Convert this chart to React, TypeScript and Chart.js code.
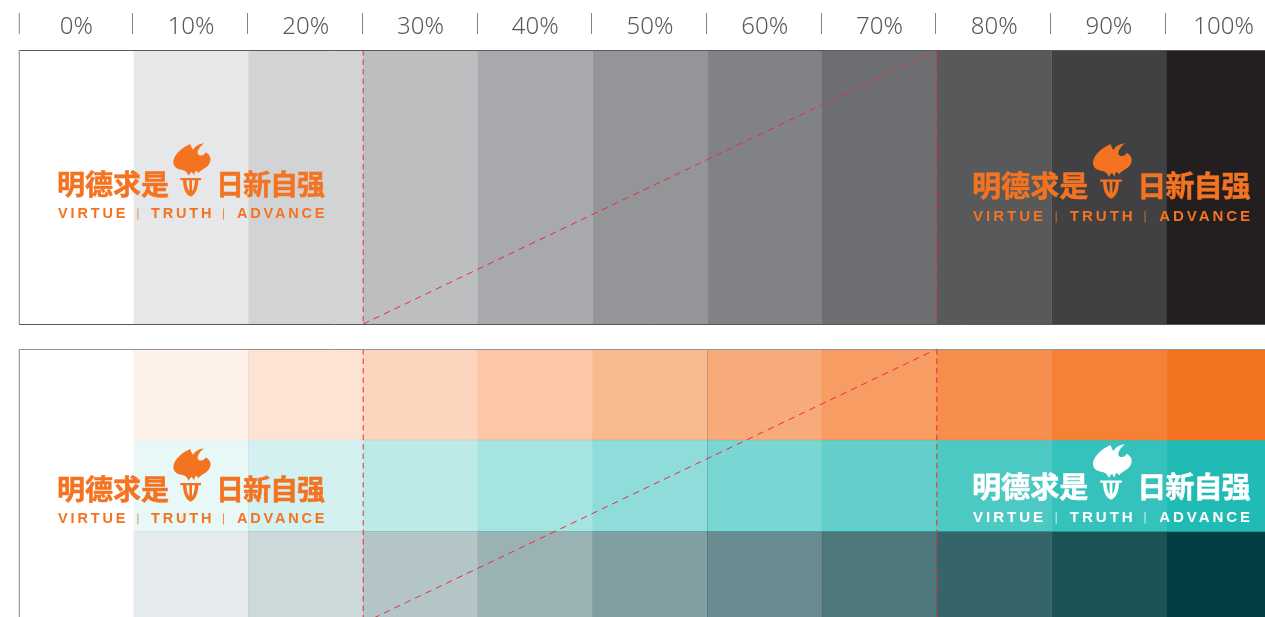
import React, { useEffect, useRef } from "react";
import { Chart, registerables } from "chart.js";

Chart.register(...registerables);

// ---- data ----
const tintLabels = ["0%", "10%", "20%", "30%", "40%", "50%", "60%", "70%", "80%", "90%", "100%"];
const tintAlpha = [0, 0.1, 0.2, 0.3, 0.4, 0.5, 0.6, 0.7, 0.8, 0.9, 1];
const grayShades = ["#ffffff", "#e6e7e8", "#d1d3d4", "#bcbec0", "#a7a9ac", "#939598", "#808285", "#6d6e71", "#58595b", "#414042", "#231f20"];
const grayRow = [0, 3];
const orangeRow = [3.274, 4.274];
const tealRow = [4.274, 5.274];
const deepRow = [5.274, 6.274];
const guideVertical = [3, 8];

const ROW_LIMIT = 6.208;
const COLS = tintLabels.length;
const ORANGE = "244,115,33";
const TEAL = "32,187,181";
const DEEP = "3,62,68";

const rowData = (r: number[], lift = 0) => tintLabels.map((_, i) => ({ x: i + 0.5, y: [r[0] - lift, r[1]] }));
const tinted = (rgb: string) => tintAlpha.map((a) => `rgba(${rgb},${a})`);

const barBase = { type: "bar", categoryPercentage: 1, borderWidth: 0, order: 2 };

const guideLine = (pts: { x: number; y: number }[], dash: number[]) => ({
  type: "line",
  data: pts,
  borderColor: "#ee2a3c",
  borderWidth: 1,
  borderDash: dash,
  pointRadius: 0,
  fill: false,
  tension: 0,
  order: 1,
});
const VDASH = [5.5, 4];
const DDASH = [6.5, 5];

const FLAME = new Path2D(
  "M76 18 C52 28 28 48 25 70 C24 84 34 93 48 95 C58 96 66 100 71 113 C74 107 77 103 80 101 L87 112 C88 106 90 101 93 98 L101 105 " +
    "C108 94 122 92 131 80 C140 68 139 52 122 43 C120 50 112 54 103 52 C98 50 96 44 100 36 C104 28 110 22 117 16 C102 18 90 24 84 35 C80 30 77 24 76 18 Z"
);
const BOWL = new Path2D(
  "M46 120 L108 120 L108 127 L100 127 C99 148 95 168 77 176 C59 168 55 148 54 127 L46 127 Z " +
    "M64 127 C65 142 68 154 73 160 L73 127 Z M81 127 L81 160 C86 154 89 142 90 127 Z"
);

type Logo = { x: number; top: number; scale: number; cn: number; en: number; color: string };
const logos: Logo[] = [
  { x: 57, top: 143, scale: 1, cn: 41, en: 71, color: "#f47321" },
  { x: 972, top: 143, scale: 1.04, cn: 41, en: 71, color: "#f47321" },
  { x: 57, top: 448, scale: 1, cn: 41, en: 71, color: "#f47321" },
  { x: 972, top: 444, scale: 1.04, cn: 41, en: 71, color: "#ffffff" },
];

function drawLogo(ctx: CanvasRenderingContext2D, l: Logo) {
  ctx.save();
  ctx.translate(l.x, l.top);
  ctx.scale(l.scale, l.scale);
  ctx.fillStyle = l.color;
  ctx.strokeStyle = l.color;
  ctx.lineWidth = 0.5;
  ctx.textBaseline = "middle";
  ctx.textAlign = "left";
  ctx.font = '700 28px "Noto Sans CJK SC"';
  (ctx as any).letterSpacing = "0px";
  ctx.fillText("明德求是", 0, l.cn);
  ctx.strokeText("明德求是", 0, l.cn);
  (ctx as any).letterSpacing = "-1px";
  ctx.fillText("日新自强", 159, l.cn);
  ctx.strokeText("日新自强", 159, l.cn);
  ctx.font = '700 14.5px "Liberation Sans"';
  (ctx as any).letterSpacing = "2.85px";
  ctx.fillText("VIRTUE", 1, l.en);
  ctx.fillText("TRUTH", 94, l.en);
  (ctx as any).letterSpacing = "2.8px";
  ctx.fillText("ADVANCE", 180, l.en);
  ctx.fillRect(80.5, l.en - 5.5, 0.8, 11);
  ctx.fillRect(166, l.en - 5.5, 0.8, 11);
  ctx.translate(108, -5);
  ctx.scale(1 / 3, 1 / 3);
  ctx.fill(FLAME);
  ctx.fill(BOWL, "evenodd");
  ctx.restore();
}

const decorations = {
  id: "decorations",
  afterDatasetsDraw(chart: any) {
    const { ctx, scales } = chart;
    const { x, y } = scales;
    ctx.save();
    // seams between the tints of the second panel
    const seam = (col: number, style: string) => {
      const px = Math.floor(x.getPixelForValue(col)) + 0.5;
      ctx.strokeStyle = style;
      ctx.lineWidth = 1;
      ctx.beginPath();
      ctx.moveTo(px, y.getPixelForValue(orangeRow[0]));
      ctx.lineTo(px, y.getPixelForValue(deepRow[1]));
      ctx.stroke();
    };
    seam(2, "rgba(0,70,70,0.05)");
    seam(6, "rgba(0,60,60,0.2)");
    // tick marks above each column
    ctx.strokeStyle = "#808285";
    ctx.lineWidth = 1;
    for (let i = 0; i < COLS; i++) {
      const p = x.getPixelForValue(i);
      const px = i ? Math.floor(p - 0.9) + 0.5 : p + 0.25;
      ctx.beginPath();
      ctx.moveTo(px, 13);
      ctx.lineTo(px, 34);
      ctx.stroke();
    }
    // panel frames
    const frame = (rowStart: number, rowEnd: number, top: string, side: string, bottom: string) => {
      const l = x.getPixelForValue(0) + 0.25;
      const r = chart.width;
      const t = Math.round(y.getPixelForValue(rowStart)) + 0.5;
      const b = Math.round(y.getPixelForValue(rowEnd)) + 0.5;
      ctx.strokeStyle = top;
      ctx.beginPath();
      ctx.moveTo(l, t);
      ctx.lineTo(r, t);
      ctx.stroke();
      ctx.strokeStyle = side;
      ctx.beginPath();
      ctx.moveTo(l, t);
      ctx.lineTo(l, b);
      ctx.stroke();
      ctx.strokeStyle = bottom;
      ctx.beginPath();
      ctx.moveTo(l, b);
      ctx.lineTo(r, b);
      ctx.stroke();
    };
    frame(grayRow[0], grayRow[1], "#58595b", "#808285", "#58595b");
    frame(orangeRow[0], deepRow[1], "#939598", "#808285", "#939598");
    ctx.restore();
    logos.forEach((l) => drawLogo(ctx, l));
  },
};

export default function App() {
  const ref = useRef<HTMLCanvasElement>(null);
  useEffect(() => {
    const chart = new Chart(ref.current as HTMLCanvasElement, {
      type: "bar",
      data: {
        labels: tintLabels,
        datasets: [
          guideLine([{ x: guideVertical[0], y: grayRow[0] }, { x: guideVertical[0], y: grayRow[1] }], VDASH),
          guideLine([{ x: guideVertical[1], y: grayRow[0] }, { x: guideVertical[1], y: grayRow[1] }], VDASH),
          guideLine([{ x: guideVertical[0], y: grayRow[1] }, { x: guideVertical[1], y: grayRow[0] }], DDASH),
          guideLine([{ x: guideVertical[0], y: orangeRow[0] }, { x: guideVertical[0], y: deepRow[1] }], VDASH),
          guideLine([{ x: guideVertical[1], y: orangeRow[0] }, { x: guideVertical[1], y: deepRow[1] }], VDASH),
          guideLine([{ x: guideVertical[0], y: deepRow[1] }, { x: guideVertical[1], y: orangeRow[0] }], DDASH),
          { ...barBase, label: "Gray", data: rowData(grayRow), backgroundColor: grayShades, barPercentage: 1.002 },
          { ...barBase, label: "Orange", data: rowData(orangeRow), backgroundColor: tinted(ORANGE), barPercentage: 1.002 },
          { ...barBase, label: "Teal", data: rowData(tealRow, 0.008), backgroundColor: tinted(TEAL), barPercentage: 1.002 },
          { ...barBase, label: "Deep", data: rowData(deepRow, 0.008), backgroundColor: tinted(DEEP), barPercentage: 1.002 },
        ] as any,
      },
      options: {
        animation: false,
        responsive: false,
        maintainAspectRatio: false,
        layout: { padding: { left: 19, right: 0, top: 0, bottom: 0 } },
        plugins: { legend: { display: false }, tooltip: { enabled: false } },
        scales: {
          x: {
            type: "linear",
            position: "top",
            offset: false,
            stacked: true,
            min: 0,
            max: COLS,
            grid: { display: false },
            border: { display: false },
            afterBuildTicks: (s: any) => {
              s.ticks = tintLabels.map((_, i) => ({ value: i + 0.5 }));
            },
            ticks: {
              color: "#58595b",
              font: { family: '"Noto Sans"', size: 24, weight: 300 },
              padding: 0,
              maxRotation: 0,
              autoSkip: false,
              callback: (v: number) => tintLabels[Math.round(v - 0.5)],
            },
            afterFit: (s: any) => {
              s.height = 50;
            },
          },
          y: { type: "linear", display: false, reverse: true, min: 0, max: ROW_LIMIT },
        },
      } as any,
      plugins: [decorations],
    });
    return () => chart.destroy();
  }, []);
  return (
    <div style={{ position: "fixed", left: 0, top: 0, width: 1265, height: 617, overflow: "hidden", background: "#fff" }}>
      <canvas ref={ref} width={1281} height={617} style={{ display: "block" }} />
    </div>
  );
}
